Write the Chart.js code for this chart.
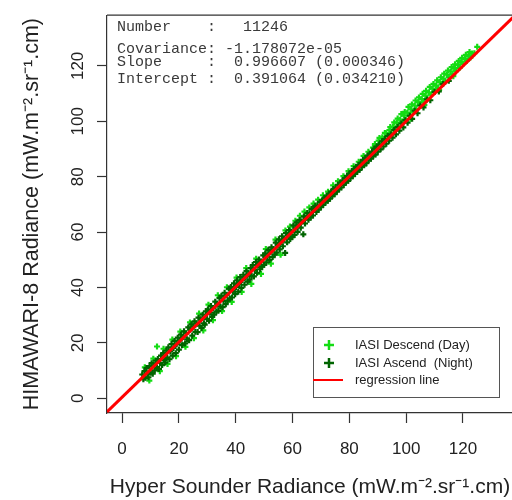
<!DOCTYPE html>
<html>
<head>
<meta charset="utf-8">
<script src="https://cdn.jsdelivr.net/npm/chart.js@4/dist/chart.umd.min.js"></script>
<style>
  html, body { margin: 0; padding: 0; background: #fff; overflow: hidden; }
  #wrap { width: 520px; height: 500px; }
</style>
</head>
<body>
<div id="wrap"><canvas id="chart" width="520" height="500"></canvas></div>
<script>
// values
const tickValues = [0, 20, 40, 60, 80, 100, 120];
const axisMin = -5.3;
const xAxisMax = 137.6;
const yAxisMax = 138.3;

const slope = 0.996607;
const intercept = 0.391064;

const statLines = [
    'Number    :   11246',
    'Covariance: -1.178072e-05',
    'Slope     :  0.996607 (0.000346)',
    'Intercept :  0.391064 (0.034210)'
];

const legendLabels = ['IASI Descend (Day)', 'IASI Ascend  (Night)', 'regression line'];

// IASI Ascend (Night), dark green
const nightPoints = [
    [7.1,8.6],[7.5,6.9],[7.9,9.8],[8.2,7.4],[8.6,10.9],[9.0,8.8],[9.3,7.6],[9.7,11.6],[10.1,9.2],[10.4,12.7],
    [10.8,8.9],[11.2,11.9],[11.5,10.1],[11.9,13.6],[12.3,11.0],[12.6,14.2],[13.0,10.6],[13.4,12.8],[13.7,15.4],[14.1,12.0],
    [14.5,16.3],[14.8,13.9],[15.2,12.9],[15.6,17.2],[15.9,14.6],[16.3,18.4],[16.7,14.1],[17.0,16.9],[17.4,19.6],[17.8,15.4],
    [18.1,18.2],[18.5,20.7],[18.9,16.3],[19.2,19.5],[19.6,21.9],[20.0,17.6],[20.3,20.8],[20.7,23.0],[21.1,19.2],[21.4,22.1],
    [21.8,24.2],[22.2,19.8],[22.5,23.4],[22.9,21.3],[23.3,25.6],[23.6,21.0],[24.0,24.8],[24.4,26.7],[24.7,22.6],[25.1,25.9],
    [25.5,27.8],[25.8,24.0],[26.2,27.0],[26.6,23.9],[26.9,29.1],[27.3,26.2],[27.7,28.5],[28.0,25.4],[28.4,30.2],[28.8,27.1],
    [29.1,26.6],[29.5,31.4],[29.9,28.6],[30.2,32.1],[30.6,28.0],[31.0,30.9],[31.3,33.3],[31.7,29.4],[32.1,32.6],[32.4,30.2],
    [32.8,34.9],[33.2,31.3],[33.5,33.9],[33.9,31.6],[34.3,36.2],[34.6,33.1],[35.0,37.0],[35.4,32.9],[35.7,35.2],[36.1,38.1],
    [36.5,34.0],[36.8,37.3],[37.2,35.3],[37.6,39.6],[37.9,36.0],[38.3,40.2],[38.7,36.4],[39.0,38.8],[39.4,41.5],[39.8,37.6],
    [40.1,40.2],[40.5,42.6],[40.9,38.5],[41.2,41.3],[41.6,43.8],[42.0,39.9],[42.3,42.7],[42.7,44.6],[43.1,41.0],[43.4,43.6],
    [43.8,45.9],[44.2,42.1],[44.5,44.9],[44.9,42.8],[45.3,47.0],[45.6,44.2],[46.0,48.1],[46.4,44.0],[46.7,46.4],[47.1,49.2],
    [47.5,45.3],[47.8,48.0],[48.2,50.1],[48.6,46.6],[48.9,49.3],[49.3,47.5],[49.7,51.6],[50.0,48.2],[50.4,52.3],[50.8,49.1],
    [51.1,51.2],[51.5,53.6],[51.9,49.9],[52.2,52.7],[52.6,54.5],[53.0,51.0],[53.3,53.9],[53.7,51.9],[54.1,56.2],[54.4,52.6],
    [54.8,55.3],[55.2,57.4],[55.5,53.8],[55.9,56.4],[56.3,58.5],[56.6,54.9],[57.0,57.5],[57.4,52.5],[57.7,59.6],[58.1,56.3],
    [58.5,58.8],[58.8,60.7],[59.2,57.5],[59.6,60.1],[59.9,58.2],[60.3,62.4],[60.7,59.0],[61.0,61.3],[61.4,63.5],[61.8,60.1],
    [62.1,62.5],[62.5,64.4],[62.9,61.6],[63.2,63.8],[63.8,59.2],[64.0,65.6],[64.4,63.1],[64.8,65.3],[65.2,66.9],[65.6,64.5],
    [66.0,66.8],[66.4,65.3],[66.8,68.4],[67.2,66.0],[67.6,68.2],[68.0,69.5],[68.4,67.3],[68.8,69.6],[69.2,68.1],[69.6,70.9],
    [70.0,69.0],[70.4,71.2],[70.8,69.8],[71.2,72.4],[71.6,70.7],[72.0,72.9],[72.4,71.3],[72.8,73.9],[73.2,72.1],[73.6,74.5],
    [74.0,73.0],[74.4,75.6],[74.8,73.7],[75.2,76.0],[75.6,74.6],[76.0,77.1],[76.4,75.5],[76.8,77.9],[77.2,76.1],[77.6,78.6],
    [78.0,77.0],[78.4,79.5],[78.8,77.9],[79.2,80.3],[79.6,78.5],[80.0,81.1],[80.4,79.5],[80.8,81.9],[81.2,80.2],[81.6,82.7],
    [82.0,81.0],[82.4,83.6],[82.8,81.8],[83.2,84.2],[83.6,82.5],[84.0,85.0],[84.4,83.5],[84.8,86.1],[85.2,84.1],[85.6,86.7],
    [86.0,84.9],[86.4,87.6],[86.8,85.9],[87.2,88.3],[87.6,86.5],[88.0,89.0],[88.4,87.4],[88.8,90.1],[89.2,88.0],[89.6,90.9],
    [90.0,89.0],[90.5,91.6],[91.0,89.9],[91.5,92.8],[92.0,90.9],[92.5,93.6],[93.0,91.9],[93.5,94.7],[94.0,93.0],[94.6,95.3],
    [95.2,94.1],[95.8,96.9],[96.4,95.3],[97.0,97.9],[97.6,96.6],[98.3,99.2],[99.0,97.8],[99.7,100.4],[100.5,99.5],[101.3,102.0],
    [102.1,100.9],[103.0,103.8],[104.0,102.9],[105.0,105.7],[106.1,105.0],[107.3,107.9],[108.5,107.6],[110.0,110.6],[111.5,110.8],[113.0,113.5],
    [115.0,114.6]
];

// IASI Descend (Day), light green
const dayPoints = [
    [8.0,11.2],[9.6,6.4],[11.0,14.3],[12.3,18.7],[13.3,9.8],[14.6,17.9],[16.0,12.4],[17.7,21.2],[19.0,15.2],[20.5,24.1],
    [22.3,18.6],[23.9,27.4],[25.3,21.7],[27.1,30.6],[28.6,24.5],[30.4,33.8],[32.0,28.2],[33.7,37.2],[35.2,31.5],[36.9,40.1],
    [38.6,34.8],[40.3,43.6],[42.1,38.4],[43.7,47.0],[45.5,41.3],[47.2,50.4],[48.9,44.9],[50.6,53.9],[52.4,48.6],[54.0,57.3],
    [55.8,51.8],[57.5,60.6],[59.1,62.0],[61.0,64.1],[62.6,65.9],[64.2,67.4],[65.9,68.9],[67.4,70.3],[69.0,71.7],[70.7,73.3],
    [72.5,74.6],[74.3,76.9],[76.0,78.4],[77.9,80.2],[79.7,82.0],[81.5,83.8],[83.3,85.4],[85.0,87.5],[86.7,89.0],
    [88.3,90.5],[89.0,91.8],[89.7,90.9],[90.3,93.0],[91.0,92.1],[91.6,94.2],[92.2,93.4],[92.9,95.7],[93.5,94.6],[94.1,96.8],
    [94.8,95.9],[95.4,98.1],[96.0,96.9],[96.7,99.5],[97.3,98.2],[97.9,100.6],[98.6,99.7],[99.2,102.0],[99.8,100.6],[100.4,103.1],
    [101.1,102.0],[101.7,104.3],[102.3,103.2],[103.0,105.7],[103.6,104.4],[104.2,106.9],[104.9,105.8],[105.5,108.0],[106.1,106.9],[106.8,109.3],
    [107.4,108.2],[108.0,110.4],[108.7,109.6],[109.3,111.8],[109.9,110.6],[110.6,112.9],[111.2,112.0],[111.8,114.2],[112.5,113.3],[113.1,115.4],
    [113.7,114.3],[114.4,116.8],[115.0,115.9],[115.6,118.0],[116.3,117.0],[116.9,119.2],[117.5,118.1],[118.2,120.4],[118.8,119.3],[119.4,121.4],
    [120.1,120.8],[120.7,122.5],[121.3,121.8],[122.0,123.6],[122.6,123.0],[123.2,124.5],[124.0,124.6],[125.0,126.9],
    [90.6,94.0],[92.5,95.8],[94.4,97.9],[95.8,99.6],[97.0,101.0],[98.3,102.6],[99.5,103.4],[100.8,105.2],[102.0,106.1],[103.3,107.5],
    [104.5,108.6],[105.8,109.9],[107.0,111.0],[108.3,112.4],[109.6,113.5],[110.9,114.8],[112.2,115.9],[113.4,117.2],[114.7,118.3],[116.0,119.6],
    [117.2,120.6],[118.5,121.8],[119.7,122.9],[121.0,124.0],[122.3,125.0],[101.5,100.9],[106.4,105.9],[111.6,111.3],[116.6,116.3]
];

const dayColor = '#14dc14';
const nightColor = '#006400';
const regColor = '#ff0000';

function toXY(list) {
    return list.map(p => ({ x: p[0], y: p[1] }));
}

// regression line across the whole x range
const regLine = [axisMin, xAxisMax].map(x => ({ x: x, y: intercept + slope * x }));

// stats text, top border and legend box
const overlayPlugin = {
    id: 'overlay',
    afterDraw(chart) {
        const ctx = chart.ctx;
        const area = chart.chartArea;
        ctx.save();

        // top edge of the box
        ctx.strokeStyle = '#333';
        ctx.lineWidth = 1.2;
        ctx.beginPath();
        ctx.moveTo(area.left, area.top);
        ctx.lineTo(area.right, area.top);
        ctx.stroke();

        // regression statistics
        ctx.fillStyle = '#3a3a3a';
        ctx.font = '15px "Liberation Mono", monospace';
        ctx.textBaseline = 'middle';
        ctx.textAlign = 'left';
        const statY = [27, 49, 62, 79];
        statLines.forEach((line, i) => ctx.fillText(line, 117, statY[i]));

        // legend
        const lx = 313, ly = 327, lw = 186, lh = 70;
        ctx.fillStyle = '#fff';
        ctx.fillRect(lx, ly, lw, lh);
        ctx.strokeStyle = '#555';
        ctx.lineWidth = 1;
        ctx.strokeRect(lx + 0.5, ly + 0.5, lw, lh);

        const rows = [345, 363, 380];
        [dayColor, nightColor].forEach((c, i) => {
            ctx.strokeStyle = c;
            ctx.lineWidth = 2.5;
            ctx.beginPath();
            ctx.moveTo(324, rows[i]); ctx.lineTo(334, rows[i]);
            ctx.moveTo(329, rows[i] - 5); ctx.lineTo(329, rows[i] + 5);
            ctx.stroke();
        });
        ctx.strokeStyle = regColor;
        ctx.lineWidth = 2;
        ctx.beginPath();
        ctx.moveTo(313, rows[2]); ctx.lineTo(343, rows[2]);
        ctx.stroke();

        ctx.fillStyle = '#222';
        ctx.font = '13px "Liberation Sans", Arial, sans-serif';
        legendLabels.forEach((t, i) => ctx.fillText(t, 355, rows[i]));
        ctx.restore();
    }
};

const axisFont = { family: '"Liberation Sans", Arial, sans-serif', size: 17 };
const xTitleFont = { family: '"Liberation Sans", Arial, sans-serif', size: 21 };
const yTitleFont = { family: '"Liberation Sans", Arial, sans-serif', size: 21.5 };

new Chart(document.getElementById('chart'), {
    type: 'scatter',
    data: {
        datasets: [{
            label: legendLabels[2],
            data: regLine,
            showLine: true,
            borderColor: regColor,
            borderWidth: 3,
            pointRadius: 0,
            order: 0
        }, {
            label: legendLabels[0],
            data: toXY(dayPoints),
            pointStyle: 'cross',
            pointRadius: 3,
            borderColor: dayColor,
            backgroundColor: dayColor,
            borderWidth: 2.2,
            order: 2
        }, {
            label: legendLabels[1],
            data: toXY(nightPoints),
            pointStyle: 'cross',
            pointRadius: 3,
            borderColor: nightColor,
            backgroundColor: nightColor,
            borderWidth: 2.2,
            order: 1
        }]
    },
    options: {
        responsive: false,
        animation: false,
        layout: { padding: { top: 8, right: 7, left: 0, bottom: 0 } },
        plugins: {
            legend: { display: false },
            tooltip: { enabled: false }
        },
        scales: {
            x: {
                type: 'linear',
                min: axisMin,
                max: xAxisMax,
                afterBuildTicks: scale => { scale.ticks = tickValues.map(v => ({ value: v })); },
                afterFit: scale => { scale.height = 87; },
                grid: { display: true, drawOnChartArea: false, drawTicks: true, tickLength: 10, tickColor: '#333', tickWidth: 1.2 },
                border: { display: true, color: '#333', width: 1.2 },
                ticks: { color: '#222', font: axisFont, padding: 16, maxRotation: 0 },
                title: {
                    display: true,
                    text: 'Hyper Sounder Radiance (mW.m⁻².sr⁻¹.cm)',
                    color: '#222',
                    font: xTitleFont,
                    padding: { top: 0, bottom: 0 }
                }
            },
            y: {
                type: 'linear',
                min: axisMin,
                max: yAxisMax,
                afterBuildTicks: scale => { scale.ticks = tickValues.map(v => ({ value: v })); },
                afterFit: scale => { scale.width = 107; },
                grid: { display: true, drawOnChartArea: false, drawTicks: true, tickLength: 10, tickColor: '#333', tickWidth: 1.2 },
                border: { display: true, color: '#333', width: 1.2 },
                ticks: { color: '#222', font: axisFont, padding: 5, minRotation: 90, maxRotation: 90, crossAlign: 'center' },
                title: {
                    display: true,
                    text: 'HIMAWARI-8 Radiance (mW.m⁻².sr⁻¹.cm)',
                    color: '#222',
                    font: yTitleFont,
                    padding: { top: 19, bottom: 0 }
                }
            }
        }
    },
    plugins: [overlayPlugin]
});
</script>
</body>
</html>
